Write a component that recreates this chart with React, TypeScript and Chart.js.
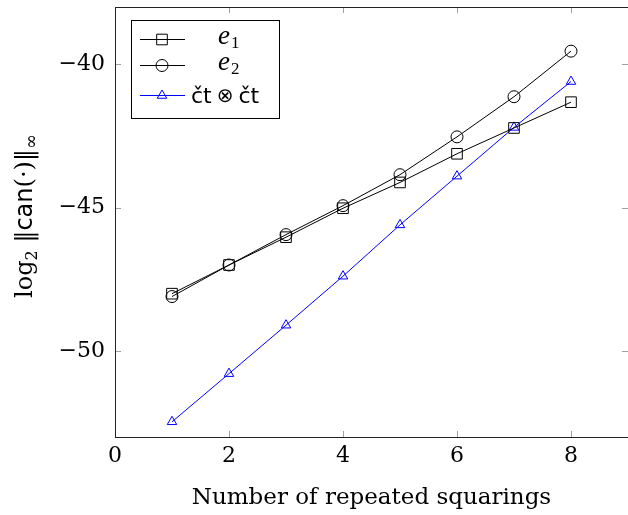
import React, { useEffect, useRef } from "react";
import { Chart, registerables } from "chart.js";

Chart.register(...registerables);

const squarings = [1, 2, 3, 4, 5, 6, 7, 8];
const e1Values = [-48.0, -47.0, -46.03, -45.02, -44.12, -43.12, -42.22, -41.32];
const e2Values = [-48.1, -47.0, -45.94, -44.93, -43.85, -42.53, -41.13, -39.54];
const ctValues = [-52.47, -50.79, -49.1, -47.39, -45.6, -43.9, -42.2, -40.6];
const xTickValues = [0, 2, 4, 6, 8];
const yTickValues = [-50, -45, -40];
const xLabel = "Number of repeated squarings";

const SERIF = "'DejaVu Serif'";
const SANS = "'DejaVu Sans'";
const ITALIC = "'Liberation Serif'";

function drawMarker(ctx: any, style: string, r: number, x: number, y: number, color: string) {
  ctx.save();
  ctx.strokeStyle = color;
  ctx.lineWidth = 1;
  ctx.beginPath();
  if (style === "rect") {
    const s = Math.SQRT1_2 * r;
    ctx.rect(x - s, y - s, 2 * s, 2 * s);
  } else if (style === "circle") {
    ctx.arc(x, y, r, 0, Math.PI * 2);
  } else if (style === "triangle") {
    const a = -Math.PI / 2;
    ctx.moveTo(x + Math.cos(a) * r, y + Math.sin(a) * r);
    ctx.lineTo(x + Math.cos(a + (2 * Math.PI) / 3) * r, y + Math.sin(a + (2 * Math.PI) / 3) * r);
    ctx.lineTo(x + Math.cos(a + (4 * Math.PI) / 3) * r, y + Math.sin(a + (4 * Math.PI) / 3) * r);
    ctx.closePath();
  }
  ctx.stroke();
  ctx.restore();
}

const framePlugin = {
  id: "frame",
  afterDraw(chart: any) {
    const { ctx, chartArea } = chart;
    const { left, right, top, bottom } = chartArea;
    const xs = chart.scales.x;
    const ys = chart.scales.y;
    ctx.save();
    ctx.strokeStyle = "#a0a0a0";
    ctx.lineWidth = 1;
    const tl = 6;
    ctx.beginPath();
    xTickValues.forEach((v) => {
      const px = Math.round(xs.getPixelForValue(v)) + 0.5;
      ctx.moveTo(px, bottom);
      ctx.lineTo(px, bottom - tl);
      ctx.moveTo(px, top);
      ctx.lineTo(px, top + tl);
    });
    yTickValues.forEach((v) => {
      const py = Math.round(ys.getPixelForValue(v)) + 0.5;
      ctx.moveTo(left, py);
      ctx.lineTo(left + tl, py);
      ctx.moveTo(right, py);
      ctx.lineTo(right - tl, py);
    });
    ctx.stroke();
    ctx.strokeStyle = "#222";
    ctx.strokeRect(Math.round(left) + 0.5, Math.round(top) + 0.5, Math.round(right - left), Math.round(bottom - top));

    // legend
    const lx = 131.5, ly = 20.5, lw = 148, lh = 98;
    ctx.fillStyle = "#fff";
    ctx.fillRect(lx, ly, lw, lh);
    ctx.strokeStyle = "#000";
    ctx.strokeRect(lx, ly, lw, lh);
    const entries = [
      { ds: 0, y: 39.5 },
      { ds: 1, y: 65.5 },
      { ds: 2, y: 95.5 },
    ];
    entries.forEach((en) => {
      const ds = chart.data.datasets[en.ds];
      ctx.strokeStyle = ds.borderColor;
      ctx.lineWidth = 1;
      ctx.beginPath();
      ctx.moveTo(140, en.y);
      ctx.lineTo(185, en.y);
      ctx.stroke();
      drawMarker(ctx, ds.pointStyle, ds.pointRadius, 162, en.y, ds.borderColor);
    });
    ctx.fillStyle = "#000";
    ctx.textBaseline = "alphabetic";
    ctx.textAlign = "left";
    ctx.font = `italic 27px ${ITALIC}`;
    ctx.fillText("e", 218, 44);
    let w = ctx.measureText("e").width;
    ctx.font = `17px ${ITALIC}`;
    ctx.fillText("1", 218 + w + 1, 48);
    ctx.font = `italic 27px ${ITALIC}`;
    ctx.fillText("e", 218, 70);
    w = ctx.measureText("e").width;
    ctx.font = `17px ${ITALIC}`;
    ctx.fillText("2", 218 + w + 1, 74);
    let x = 191;
    ctx.font = `22px ${SANS}`;
    ctx.fillText("čt", x, 103);
    x += ctx.measureText("čt").width + 5;
    ctx.font = `20px ${SANS}`;
    ctx.fillText("⊗", x, 102);
    x += ctx.measureText("⊗").width + 5;
    ctx.font = `22px ${SANS}`;
    ctx.fillText("čt", x, 103);

    // y axis title (rotated)
    const parts = [
      { t: "log", f: `24px ${SERIF}`, dy: 0 },
      { t: "2", f: `16px ${SERIF}`, dy: 5 },
      { t: " ‖", f: `24px ${SERIF}`, dy: 0 },
      { t: "can", f: `24px ${SANS}`, dy: 0 },
      { t: "(·)‖", f: `24px ${SERIF}`, dy: 0 },
      { t: "∞", f: `18px ${SERIF}`, dy: 5 },
    ];
    let total = 0;
    parts.forEach((p) => {
      ctx.font = p.f;
      total += ctx.measureText(p.t).width;
    });
    ctx.translate(32, 216);
    ctx.rotate(-Math.PI / 2);
    let px = -total / 2;
    parts.forEach((p) => {
      ctx.font = p.f;
      ctx.fillText(p.t, px, p.dy);
      px += ctx.measureText(p.t).width;
    });
    ctx.restore();
  },
};

export default function App() {
  const ref = useRef<HTMLCanvasElement>(null);
  useEffect(() => {
    document.body.style.margin = "0";
    const mk = (vals: number[]) => squarings.map((x, i) => ({ x, y: vals[i] }));
    const base = {
      borderWidth: 1,
      pointBackgroundColor: "rgba(0,0,0,0)",
      pointBorderWidth: 1,
      tension: 0,
      fill: false,
    };
    const zeroPad = (s: any) => {
      s.paddingTop = 0;
      s.paddingBottom = 0;
      s.paddingLeft = 0;
      s.paddingRight = 0;
    };
    const chart = new Chart(ref.current!, {
      type: "line",
      data: {
        datasets: [
          { ...base, label: "e1", data: mk(e1Values), borderColor: "#000", pointBorderColor: "#000", pointStyle: "rect", pointRadius: 7.5 },
          { ...base, label: "e2", data: mk(e2Values), borderColor: "#000", pointBorderColor: "#000", pointStyle: "circle", pointRadius: 6 },
          { ...base, label: "ct", data: mk(ctValues), borderColor: "#0000ff", pointBorderColor: "#0000ff", pointStyle: "triangle", pointRadius: 5.5 },
        ] as any,
      },
      options: {
        animation: false,
        responsive: false,
        devicePixelRatio: 1,
        layout: { autoPadding: false, padding: { left: 0, top: 7, right: 0, bottom: 0 } },
        plugins: { legend: { display: false }, tooltip: { enabled: false } },
        scales: {
          x: {
            type: "linear",
            min: 0,
            max: 9,
            grid: { display: false, drawTicks: false },
            border: { display: false },
            afterBuildTicks: (s: any) => {
              s.ticks = xTickValues.map((v) => ({ value: v }));
            },
            afterFit: (s: any) => {
              s.height = 78;
              zeroPad(s);
            },
            ticks: { color: "#000", font: { family: "DejaVu Serif", size: 22 }, padding: 6, maxRotation: 0, autoSkip: false },
            title: { display: true, text: xLabel, color: "#000", font: { family: "DejaVu Serif", size: 23 }, padding: { top: 0, bottom: 3 } },
          },
          y: {
            type: "linear",
            min: -53,
            max: -38,
            grid: { display: false, drawTicks: false },
            border: { display: false },
            afterBuildTicks: (s: any) => {
              s.ticks = yTickValues.map((v) => ({ value: v }));
            },
            afterFit: (s: any) => {
              s.width = 115;
              zeroPad(s);
            },
            ticks: {
              color: "#000",
              font: { family: "DejaVu Serif", size: 22 },
              padding: 10,
              autoSkip: false,
              callback: (v: any) => String(v).replace("-", "\u2212"),
            },
          },
        },
      },
      plugins: [framePlugin],
    });
    return () => chart.destroy();
  }, []);
  return (
    <div style={{ width: 628, height: 515 }}>
      <canvas ref={ref} width={628} height={515} />
    </div>
  );
}
